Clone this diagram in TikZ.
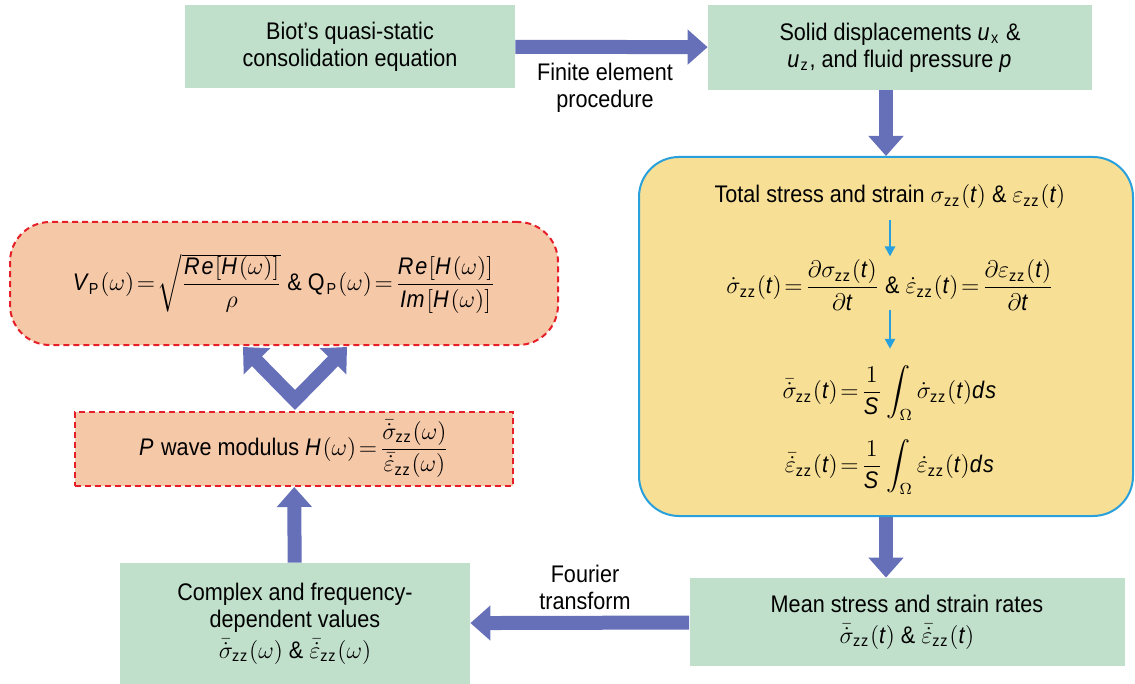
\documentclass[tikz,border=0pt]{standalone}
\usepackage{amsmath}
\usepackage{fontspec}
\setmainfont{Liberation Sans}[FakeStretch=0.9]
\usetikzlibrary{arrows.meta}

\definecolor{boxgreen}{RGB}{193,224,203}
\definecolor{arrowblue}{RGB}{102,112,184}
\definecolor{boxyellow}{RGB}{248,223,150}
\definecolor{lineblue}{RGB}{40,160,220}
\definecolor{boxsalmon}{RGB}{245,200,168}
\definecolor{dashred}{RGB}{230,30,40}

\tikzset{
  greenbox/.style={fill=boxgreen, align=center, inner sep=2pt},
  yellowbox/.style={fill=boxyellow, draw=lineblue, line width=1pt, rounded corners=20pt},
  redbox/.style={fill=boxsalmon, draw=dashred, line width=1pt, dash pattern=on 3pt off 2pt, align=center},
  fatarrow/.style={draw=arrowblue, line width=7pt, -{Triangle[width=17pt,length=10pt]}},
  fatdouble/.style={draw=arrowblue, line width=7pt, line join=miter, {Triangle[width=18pt,length=10pt]}-{Triangle[width=18pt,length=10pt]}},
  thinarrow/.style={draw=lineblue, line width=1.3pt, -{Triangle[width=5pt,length=5pt]}},
}

\begin{document}
\begin{tikzpicture}[x=0.5pt, y=-0.5pt, font=\fontsize{12}{13.5}\selectfont,
  execute at begin node={\thickmuskip=2mu\medmuskip=2mu}]
\useasboundingbox (0,0) rectangle (1135,684);

% top row
\node[greenbox, minimum width=165pt, minimum height=41.5pt] (biot) at (350,46.5) {Biot’s quasi-static\\consolidation equation};
\node[greenbox, minimum width=192pt, minimum height=42.5pt] (disp) at (900,47.5) {Solid displacements $\mathit{u}_{\mathrm{x}}$ \&\\$\mathit{u}_{\mathrm{z}}$, and fluid pressure $\mathit{p}$};
\node[align=center] (fem) at (605,88) {Finite element\\procedure};

% stress and strain box
\node[yellowbox, minimum width=247pt, minimum height=179.5pt] (stress) at (886,336.5) {};
\node (total) at (890,197) {Total stress and strain $\sigma_{\mathrm{zz}}(\mathit{t})$ \& $\varepsilon_{\mathrm{zz}}(\mathit{t})$};
\node (rate) at (890,285) {$\dot{\sigma}_{\mathrm{zz}}(\mathit{t})=\dfrac{\partial\sigma_{\mathrm{zz}}(\mathit{t})}{\partial \mathit{t}}$ \& $\dot{\varepsilon}_{\mathrm{zz}}(\mathit{t})=\dfrac{\partial\varepsilon_{\mathrm{zz}}(\mathit{t})}{\partial \mathit{t}}$};
\node (meansig) at (890,393) {$\bar{\dot{\sigma}}_{\mathrm{zz}}(\mathit{t})=\dfrac{1}{\mathit{S}}\displaystyle\int_{\Omega}\dot{\sigma}_{\mathrm{zz}}(\mathit{t})\mathit{ds}$};
\node (meaneps) at (890,467) {$\bar{\dot{\varepsilon}}_{\mathrm{zz}}(\mathit{t})=\dfrac{1}{\mathit{S}}\displaystyle\int_{\Omega}\dot{\varepsilon}_{\mathrm{zz}}(\mathit{t})\mathit{ds}$};
\draw[thinarrow, shorten <=2pt, shorten >=-2pt] (total) -- (rate);
\draw[thinarrow, shorten <=-4pt, shorten >=5pt] (rate) -- (meansig);

% bottom row
\node[greenbox, minimum width=217.5pt, minimum height=44pt] (mean) at (907,622) {Mean stress and strain rates\\[2pt]$\bar{\dot{\sigma}}_{\mathrm{zz}}(\mathit{t})$ \& $\bar{\dot{\varepsilon}}_{\mathrm{zz}}(\mathit{t})$};
\node[greenbox, minimum width=175pt, minimum height=60.5pt] (complex) at (295,623.5) {Complex and frequency-\\dependent values\\[2pt]$\bar{\dot{\sigma}}_{\mathrm{zz}}(\omega)$ \& $\bar{\dot{\varepsilon}}_{\mathrm{zz}}(\omega)$};
\node[align=center] (fourier) at (585,587) {Fourier\\transform};

% modulus and velocity
\node[redbox, minimum width=219pt, minimum height=37pt] (modulus) at (294,449) {$\mathit{P}$ wave modulus $\mathit{H}(\omega)=\dfrac{\bar{\dot{\sigma}}_{\mathrm{zz}}(\omega)}{\bar{\dot{\varepsilon}}_{\mathrm{zz}}(\omega)}$};
\node[redbox, rounded corners=20pt, minimum width=274pt, minimum height=61.5pt] (velocity) at (284,283.5) {$\mathit{V}_{\mathrm{P}}(\omega)=\sqrt{\dfrac{\mathit{Re}[\mathit{H}(\omega)]}{\rho}}$ \& $\mathrm{Q}_{\mathrm{P}}(\omega)=\dfrac{\mathit{Re}[\mathit{H}(\omega)]}{\mathit{Im}[\mathit{H}(\omega)]}$};

% thick arrows
\draw[fatarrow] (biot) -- (disp);
\draw[fatarrow] (disp.south -| stress.north) -- (stress.north);
\draw[fatarrow] (stress.south) -- (stress.south |- mean.north);
\draw[fatarrow] (mean) -- (complex);
\draw[fatarrow] (complex) -- (modulus);

% V arrow
\coordinate (vleft) at (243,347);
\coordinate (vbottom) at (295,400);
\coordinate (vright) at (347,347);
\draw[fatdouble] (vleft) -- (vbottom) -- (vright);

\end{tikzpicture}
\end{document}
